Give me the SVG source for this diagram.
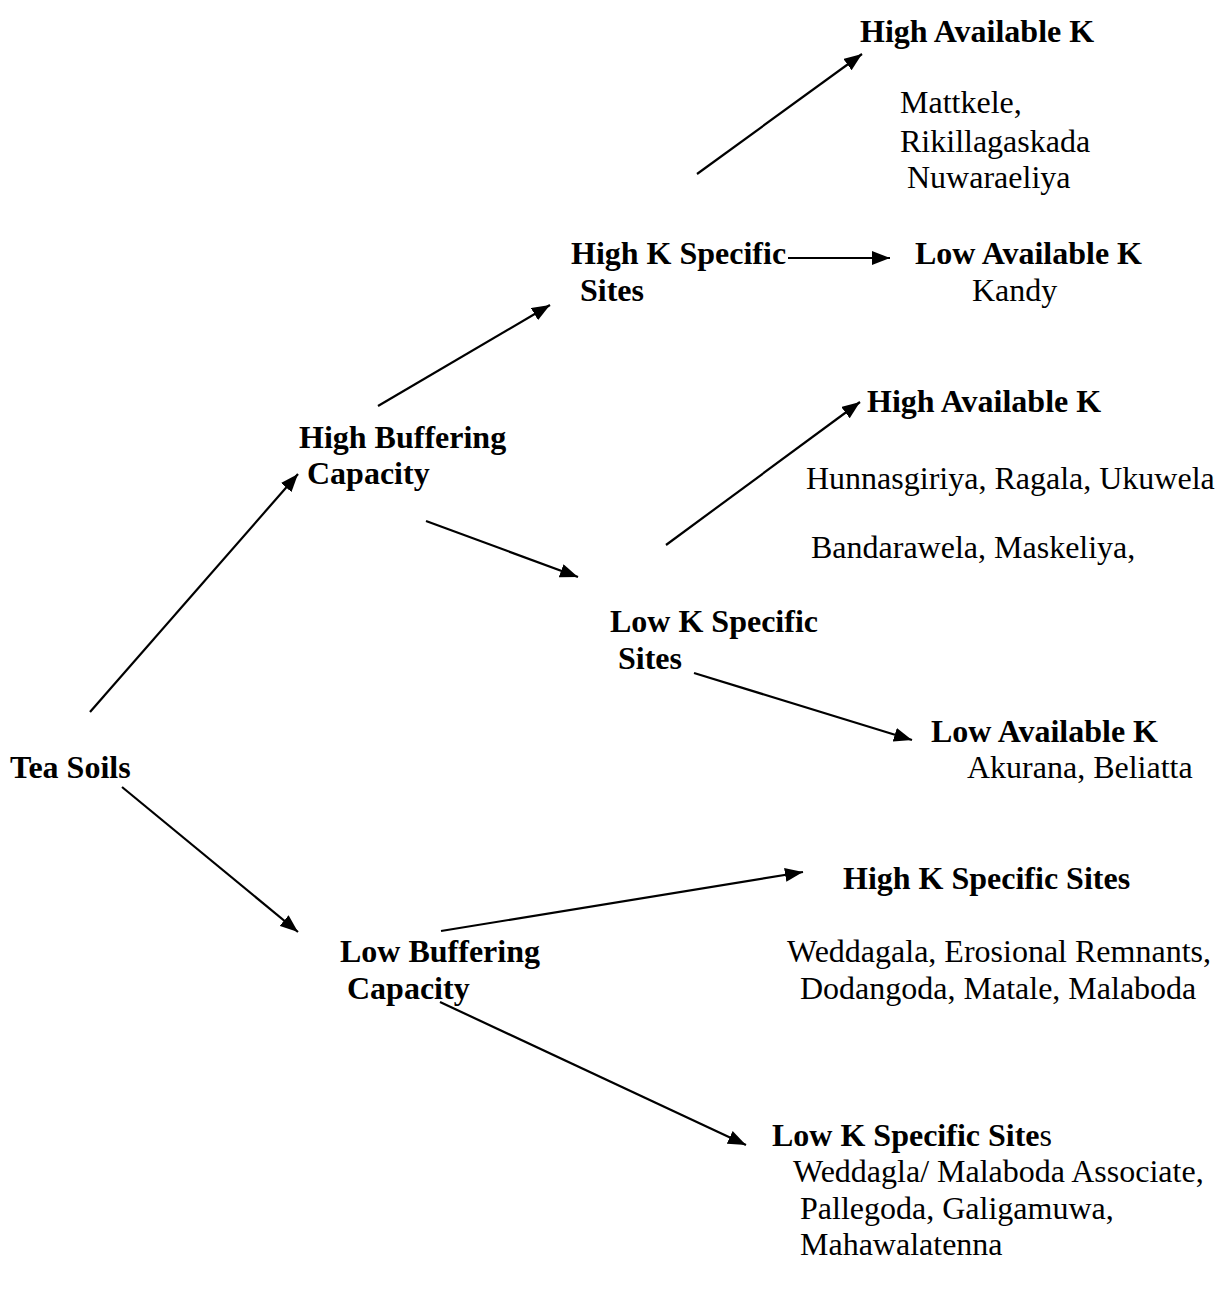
<svg xmlns="http://www.w3.org/2000/svg" width="1217" height="1296" viewBox="0 0 1217 1296">
<style>
text{font-family:"Liberation Serif","Times New Roman",serif;font-size:32px;fill:#000}
.b{font-weight:bold}
.c line{stroke:#000;stroke-width:2.2;marker-end:url(#ah)}
</style>
<defs>
<marker id="ah" markerUnits="userSpaceOnUse" markerWidth="20" markerHeight="14" refX="18" refY="7" orient="auto">
<path d="M0,0 L18,7 L0,14 Z" fill="#000"/>
</marker>
</defs>
<rect width="1217" height="1296" fill="#fff"/>
<g class="c" id="connectors">
<line x1="90" y1="712" x2="298" y2="474"/>
<line x1="122" y1="787" x2="298" y2="932"/>
<line x1="378" y1="406" x2="550" y2="305"/>
<line x1="426" y1="521" x2="578" y2="577"/>
<line x1="697" y1="174" x2="862" y2="54"/>
<line x1="788" y1="258" x2="890" y2="258"/>
<line x1="666" y1="545" x2="860" y2="402"/>
<line x1="694" y1="673" x2="912" y2="740"/>
<line x1="441" y1="931" x2="803" y2="872"/>
<line x1="440" y1="1002" x2="746" y2="1145"/>
</g>
<g id="tea-soils"><text class="b" x="10" y="778">Tea Soils</text></g>
<g id="high-buffering"><text class="b" x="299" y="448">High Buffering</text><text class="b" x="307" y="484">Capacity</text></g>
<g id="low-buffering"><text class="b" x="340" y="962">Low Buffering</text><text class="b" x="347" y="999">Capacity</text></g>
<g id="high-k-specific"><text class="b" x="571" y="264">High K Specific</text><text class="b" x="580" y="301">Sites</text></g>
<g id="low-k-specific"><text class="b" x="610" y="632">Low K Specific</text><text class="b" x="618" y="669">Sites</text></g>
<g id="high-avail-1"><text class="b" x="860" y="42">High Available K</text>
<text x="900" y="113">Mattkele,</text><text x="900" y="152">Rikillagaskada</text><text x="907" y="188">Nuwaraeliya</text></g>
<g id="low-avail-1"><text class="b" x="915" y="264">Low Available K</text><text x="972" y="301">Kandy</text></g>
<g id="high-avail-2"><text class="b" x="867" y="412">High Available K</text>
<text x="806" y="489">Hunnasgiriya, Ragala, Ukuwela</text><text x="811" y="558">Bandarawela, Maskeliya,</text></g>
<g id="low-avail-2"><text class="b" x="931" y="742">Low Available K</text><text x="967" y="778">Akurana, Beliatta</text></g>
<g id="high-k-sites"><text class="b" x="843" y="889">High K Specific Sites</text>
<text x="787" y="962">Weddagala, Erosional Remnants,</text><text x="800" y="999">Dodangoda, Matale, Malaboda</text></g>
<g id="low-k-sites"><text x="772" y="1146"><tspan class="b">Low K Specific Site</tspan>s</text>
<text x="793" y="1182">Weddagla/ Malaboda Associate,</text><text x="800" y="1219">Pallegoda, Galigamuwa,</text><text x="800" y="1255">Mahawalatenna</text></g>
</svg>
